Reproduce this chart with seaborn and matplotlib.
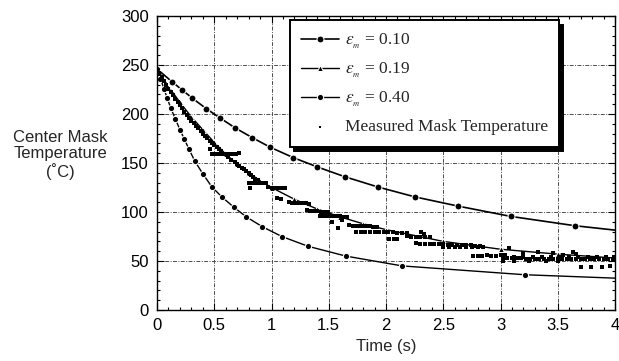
import matplotlib
matplotlib.use("Agg")
import matplotlib.pyplot as plt
import seaborn as sns
from matplotlib.ticker import MultipleLocator

# model curves (s, deg C)
time_010 = [0, 0.13, 0.22, 0.31, 0.43, 0.55, 0.68, 0.83, 0.99, 1.19, 1.40, 1.64, 1.93, 2.25, 2.63, 3.09, 3.65, 4.0]
temp_010 = [246, 233, 224.5, 216, 205.5, 196, 186, 176, 166, 155.5, 146, 136, 125.5, 115.5, 106, 95.5, 86, 81.5]

time_019 = [0, 0.1, 0.2, 0.3, 0.4, 0.5, 0.6, 0.7, 0.8, 0.9, 1.0, 1.2, 1.4, 1.6, 1.8, 2.0, 2.5, 3.0, 3.5, 4.0]
temp_019 = [246, 228, 212, 197, 184, 171, 159, 149, 140, 132, 125, 113, 103, 95, 88, 82, 70, 62, 57, 53]

time_040 = [0, 0.03, 0.06, 0.09, 0.12, 0.16, 0.20, 0.24, 0.28, 0.33, 0.40, 0.48, 0.57, 0.67, 0.78, 0.92,
            1.09, 1.32, 1.65, 2.14, 3.21, 4.0]
temp_040 = [246, 236, 226, 216, 206, 195, 184, 174, 164, 152, 139, 125.5, 115, 105, 95, 85,
            75, 65, 55, 45, 36, 32.5]

# measured mask temperature
meas_t = [0.02, 0.04, 0.06, 0.08, 0.10, 0.12, 0.14, 0.16, 0.18, 0.20, 0.22, 0.24, 0.26, 0.28, 0.30, 0.32,
          0.34, 0.36, 0.38, 0.40, 0.42, 0.44, 0.46, 0.48, 0.50, 0.52, 0.54, 0.56,
          0.46, 0.48, 0.51, 0.54, 0.57, 0.60, 0.63, 0.66, 0.69, 0.72,
          0.62, 0.65, 0.68, 0.70, 0.72, 0.74, 0.76, 0.78, 0.80, 0.82, 0.84, 0.86, 0.88,
          0.80, 0.83, 0.86, 0.89, 0.92, 0.95, 0.81,
          0.97, 1.00, 1.03, 1.06, 1.09, 1.12, 1.05, 1.08,
          1.15, 1.18, 1.21, 1.24, 1.27, 1.30, 1.33,
          1.31, 1.34, 1.37, 1.40, 1.43, 1.46, 1.49,
          1.42, 1.45, 1.48, 1.51, 1.54, 1.57, 1.60, 1.63, 1.66, 1.58, 1.53, 1.62,
          1.68, 1.71, 1.74, 1.77, 1.80, 1.83, 1.86, 1.89, 1.92,
          1.74, 1.78, 1.82, 1.86, 1.90, 1.94, 1.98, 2.02, 2.06, 2.10, 2.14, 2.18,
          2.03, 2.07, 2.10,
          2.18, 2.22, 2.26, 2.30, 2.34, 2.38, 2.31, 2.33,
          2.26, 2.30, 2.34, 2.38, 2.42, 2.46, 2.50, 2.54, 2.58, 2.62, 2.66, 2.70, 2.74, 2.78, 2.82,
          2.50, 2.55, 2.60, 2.65, 2.70, 2.75, 2.80, 2.85,
          2.76, 2.80, 2.84, 2.88, 2.92, 2.96, 3.00, 3.04,
          3.02, 3.06, 3.10, 3.14, 3.18, 3.22, 3.26, 3.30, 3.34, 3.38, 3.42, 3.46, 3.50, 3.54, 3.58,
          3.62, 3.66, 3.70, 3.74, 3.78, 3.82, 3.86, 3.90, 3.94, 3.98,
          3.04, 3.12, 3.20, 3.28, 3.36, 3.44, 3.52, 3.60, 3.68, 3.76, 3.84, 3.92, 3.99,
          3.07, 3.20, 3.33, 3.46, 3.63, 3.66, 3.55,
          3.70, 3.79, 3.89, 3.96, 3.02, 3.12, 3.25, 3.40, 3.50]
meas_T = [242, 238, 234, 230, 226, 222, 219, 215, 212, 209, 206, 202, 199, 196, 193, 191,
          188, 186, 183, 180, 178, 175, 172, 170, 168, 166, 164, 162,
          164, 159, 159, 159, 159, 159, 159, 159, 159, 160,
          156, 153, 151, 149, 147, 145, 144, 142, 140, 138, 136, 134, 133,
          130, 130, 130, 130, 130, 130, 125,
          126, 125, 125, 125, 124, 124, 114, 113,
          110, 109, 109, 109, 109, 109, 108,
          102, 101, 101, 101, 100, 100, 100,
          96, 96, 96, 96, 96, 96, 96, 95, 95, 84, 90, 92,
          87, 86, 86, 86, 86, 86, 86, 85, 85,
          80, 80, 80, 80, 80, 80, 80, 80, 80, 79, 79, 79,
          72, 72, 72,
          76, 75, 75, 74, 74, 74, 80, 78,
          68, 67, 67, 67, 67, 67, 67, 66, 66, 66, 66, 66, 66, 65, 65,
          64, 64, 64, 64, 64, 64, 64, 64,
          55, 55, 55, 56, 55, 55, 56, 56,
          53, 53, 53, 53, 53, 52, 52, 52, 52, 52, 52, 52, 52, 52, 52,
          52, 52, 52, 52, 52, 52, 52, 52, 52, 52,
          54, 54, 54, 54, 54, 54, 54, 54, 54, 54, 54, 54, 54,
          63, 58, 59, 58, 59, 57, 56,
          44, 44, 44, 45, 50, 50, 50, 50, 50]

labels = [r"$\varepsilon_{_m}$ = 0.10", r"$\varepsilon_{_m}$ = 0.19", r"$\varepsilon_{_m}$ = 0.40",
          "Measured Mask Temperature"]

sns.set_style("ticks")
plt.rcParams['font.family'] = ['Liberation Sans', 'DejaVu Sans']
plt.rcParams['mathtext.fontset'] = 'stix'

fig = plt.figure(figsize=(6.19, 3.61), dpi=100)
ax = fig.add_axes([157 / 619, 1 - 310 / 361, 458 / 619, 294 / 361])

sns.lineplot(x=time_010, y=temp_010, ax=ax, color='black', lw=1.2, marker='o', ms=5,
             markevery=list(range(len(time_010) - 1)), label=labels[0])
sns.lineplot(x=time_019, y=temp_019, ax=ax, color='black', lw=1.0, marker='^', ms=5,
             markevery=list(range(len(time_019) - 1)), label=labels[1])
sns.lineplot(x=time_040, y=temp_040, ax=ax, color='black', lw=1.0, marker='o', ms=4.5,
             markevery=list(range(len(time_040) - 1)), label=labels[2])
sns.scatterplot(x=meas_t, y=meas_T, ax=ax, color='black', marker='s', s=5, linewidth=0,
                label=labels[3], zorder=3)

ax.set_xlim(0, 4)
ax.set_ylim(0, 300)
ax.xaxis.set_major_locator(MultipleLocator(0.5))
ax.xaxis.set_minor_locator(MultipleLocator(0.1))
ax.yaxis.set_major_locator(MultipleLocator(50))
ax.yaxis.set_minor_locator(MultipleLocator(10))
ax.xaxis.set_major_formatter(plt.FuncFormatter(lambda v, p: f"{v:g}"))
ax.tick_params(which='both', direction='in', top=True, right=True, color='black', width=0.8)
ax.tick_params(which='major', length=5, labelsize=12, colors='black', pad=6)
ax.tick_params(which='minor', length=2.5)
for s in ax.spines.values():
    s.set_color('black')
    s.set_linewidth(1.0)
ax.grid(True, which='major', color='0.3', lw=0.7, ls=(0, (4, 1.5, 1, 1.5)))

ax.set_xlabel("Time (s)", fontsize=12, labelpad=4)
ax.set_ylabel("")
fig.text(60 / 619, 1 - 155 / 361, "Center Mask\nTemperature\n(\u02daC)", ha='center', va='center',
         fontsize=12, linespacing=1.1)

leg = ax.legend(loc='upper left', bbox_to_anchor=(0.29, 0.985), borderaxespad=0,
                fancybox=False, framealpha=1, edgecolor='black',
                shadow={'color': 'black', 'alpha': 1, 'ox': 3, 'oy': -3},
                prop={'family': 'Liberation Serif', 'size': 12.5},
                handlelength=2.2, handletextpad=0.3, labelspacing=0.58, borderpad=0.65)
leg.get_frame().set_linewidth(1.4)
leg.legend_handles[3].set_sizes([3])

fig.savefig("out.png", dpi=100)
